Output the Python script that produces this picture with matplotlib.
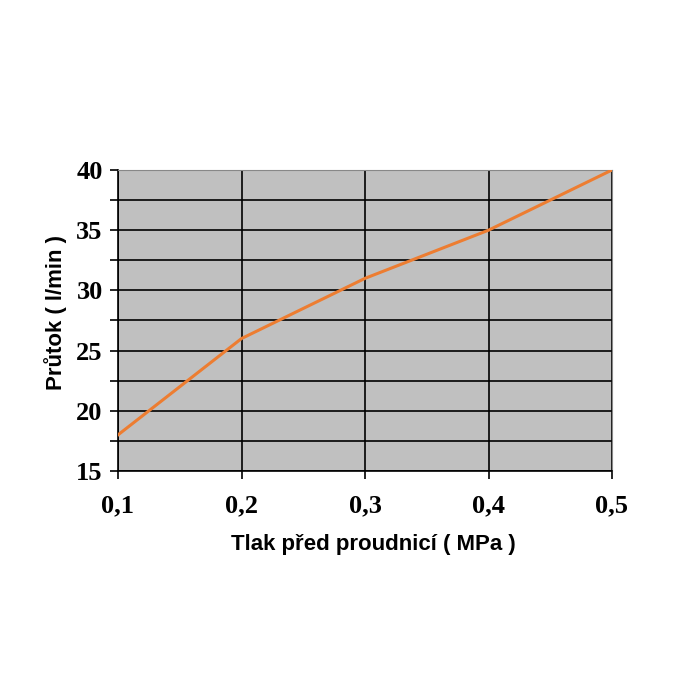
import matplotlib.pyplot as plt

# Data
tlak = [0.1, 0.2, 0.3, 0.4, 0.5]
prutok = [18, 26, 31, 35, 40]
x_labels = ['0,1', '0,2', '0,3', '0,4', '0,5']
y_ticks = [15, 20, 25, 30, 35, 40]

fig = plt.figure(figsize=(7, 7), dpi=100)
ax = fig.add_axes([118/700, 1 - 471/700, (612 - 118)/700, (471 - 170)/700])
ax.set_facecolor('#c0c0c0')

ax.plot(tlak, prutok, color='#ed7d31', linewidth=2.2, zorder=3)

ax.set_xlim(0.1, 0.5)
ax.set_ylim(15, 40)
ax.set_xticks(tlak)
ax.set_xticklabels(x_labels)
ax.set_yticks(y_ticks)
ax.set_yticks([17.5, 22.5, 27.5, 32.5, 37.5], minor=True)

ax.grid(True, which='both', color='black', linewidth=1.2, zorder=1)
ax.set_axisbelow(True)

for lbl in ax.get_xticklabels() + ax.get_yticklabels():
    lbl.set_fontfamily('Liberation Serif')
    lbl.set_fontweight('bold')
    lbl.set_fontsize(19)

ax.tick_params(axis='y', which='both', direction='out', length=6, width=1.2, pad=5)
ax.tick_params(axis='x', direction='out', length=6, width=1.2, pad=11)

ax.spines['left'].set_color('black')
ax.spines['bottom'].set_color('black')
ax.spines['left'].set_linewidth(1.2)
ax.spines['bottom'].set_linewidth(1.2)
ax.spines['top'].set_color('#888888')
ax.spines['right'].set_color('#888888')

ax.set_xlabel('Tlak před proudnicí ( MPa )', fontfamily='Liberation Sans',
              fontweight='bold', fontsize=16)
ax.set_ylabel('Průtok ( l/min )', fontfamily='Liberation Sans',
              fontweight='bold', fontsize=16)
ax.xaxis.set_label_coords(0.516, -0.21)
ax.yaxis.set_label_coords(-0.104, 0.528)

fig.savefig('out.png', dpi=100, facecolor='white')
